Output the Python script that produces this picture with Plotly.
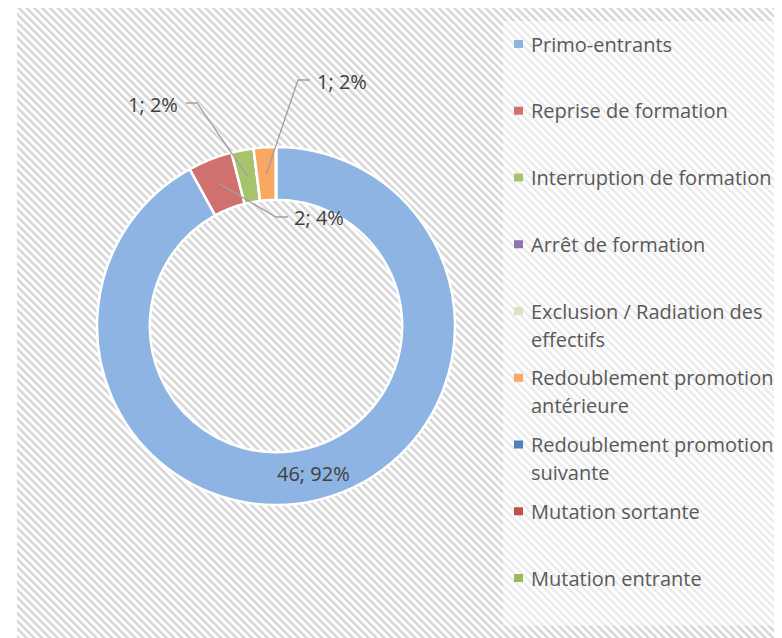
import math
import base64
import plotly.graph_objects as go

# ---------------- data ----------------
categories = [
    "Primo-entrants",
    "Reprise de formation",
    "Interruption de formation",
    "Arrêt de formation",
    "Exclusion / Radiation des effectifs",
    "Redoublement promotion antérieure",
    "Redoublement promotion suivante",
    "Mutation sortante",
    "Mutation entrante",
]
legend_lines = [
    ["Primo-entrants"],
    ["Reprise de formation"],
    ["Interruption de formation"],
    ["Arrêt de formation"],
    ["Exclusion / Radiation des", "effectifs"],
    ["Redoublement promotion", "antérieure"],
    ["Redoublement promotion", "suivante"],
    ["Mutation sortante"],
    ["Mutation entrante"],
]
values = [46, 2, 1, 0, 0, 1, 0, 0, 0]
colors = ["#8DB4E2", "#D0716F", "#A6C46E", "#8E73AE", "#D7E4BD",
          "#F9A762", "#4F81BD", "#C0504D", "#9BBB59"]

# ---------------- geometry (screen pixels) ----------------
OFF = 8                      # page body margin
W, H = 782 - OFF, 638 - OFF  # figure size
CX, CY, R_OUT = 276, 326, 179
HOLE = 0.705
R_IN = R_OUT * HOLE
FONT = "Open Sans"
FS = 20
TXT = "#595959"
LBL = "#404040"


def px(x):
    return (x - OFF) / W


def py(y):
    return 1 - (y - OFF) / H


total = sum(values)
labels_txt = [f"{v}; {round(v / total * 100)}%" for v in values]

fig = go.Figure()
fig.add_trace(go.Pie(
    labels=categories,
    values=values,
    hole=HOLE,
    sort=False,
    direction="clockwise",
    rotation=0,
    marker=dict(colors=colors, line=dict(color="white", width=2.5)),
    textinfo="none",
    showlegend=False,
    hoverinfo="label+value+percent",
    domain=dict(x=[px(CX - R_OUT), px(CX + R_OUT)],
                y=[py(CY + R_OUT), py(CY - R_OUT)]),
))

# ---------------- hatched background ----------------
BX0 = 17
BW, BH = W - (BX0 - OFF), H
svg = (
    f"<svg xmlns='http://www.w3.org/2000/svg' width='{BW}' height='{BH}'>"
    "<defs><pattern id='h' width='5.5' height='5.5' patternUnits='userSpaceOnUse' "
    "patternTransform='rotate(-45)'>"
    "<rect width='5.5' height='5.5' fill='#ffffff'/>"
    "<rect width='2.5' height='5.5' fill='#d6d6d6'/>"
    "</pattern></defs>"
    f"<rect width='{BW}' height='{BH}' fill='url(#h)'/></svg>"
)
src = "data:image/svg+xml;base64," + base64.b64encode(svg.encode()).decode()

shapes = []
# legend box (semi-opaque white)
shapes.append(dict(type="rect", xref="paper", yref="paper",
                   x0=px(503), x1=1, y0=py(626), y1=py(21),
                   fillcolor="rgba(255,255,255,0.5)", line=dict(width=0),
                   layer="below"))

annotations = []

# ---------------- data labels ----------------
cum = 0
mids = []
for v in values:
    mids.append((cum + v / 2) / total)
    cum += v

r_mid = (R_OUT + R_IN) / 2


def ring_point(frac, r):
    ang = 2 * math.pi * frac
    return CX + r * math.sin(ang), CY - r * math.cos(ang)


# big slice: label inside the ring
bx, by = ring_point(mids[0], r_mid)
annotations.append(dict(x=px(bx), y=py(by), xref="paper", yref="paper",
                        text=labels_txt[0], showarrow=False,
                        xanchor="center", yanchor="middle",
                        font=dict(family=FONT, size=FS, color=LBL)))

# small slices: leader-line labels
# index -> (elbow x, elbow y, end x, text x, anchor)
placement = {
    1: (276, 217, 288, 292, "left"),
    2: (197, 103, 186, 180, "right"),
    5: (298, 80, 310, 315, "left"),
}
for i, (ex, ey, endx, tx, anc) in placement.items():
    ax, ay = ring_point(mids[i], r_mid)
    path = f"M {px(ax)},{py(ay)} L {px(ex)},{py(ey)} L {px(endx)},{py(ey)}"
    shapes.append(dict(type="path", xref="paper", yref="paper", path=path,
                       line=dict(color="#a0a0a0", width=1.3)))
    annotations.append(dict(x=px(tx), y=py(ey + 1), xref="paper", yref="paper",
                            text=labels_txt[i], showarrow=False,
                            xanchor=anc, yanchor="middle",
                            font=dict(family=FONT, size=FS, color=LBL)))

# ---------------- manual legend ----------------
LEG_Y0, LEG_STEP, LINE_H = 44, 66.75, 28
for i, lines in enumerate(legend_lines):
    y = LEG_Y0 + i * LEG_STEP
    shapes.append(dict(type="rect", xref="paper", yref="paper",
                       x0=px(514), x1=px(523), y0=py(y + 4), y1=py(y - 4),
                       fillcolor=colors[i], line=dict(width=0)))
    for k, ln in enumerate(lines):
        annotations.append(dict(x=px(529), y=py(y + k * LINE_H), xref="paper",
                                yref="paper", text=ln, showarrow=False,
                                xanchor="left", yanchor="middle",
                                font=dict(family=FONT, size=FS, color=TXT)))

fig.update_layout(
    width=W, height=H,
    margin=dict(l=0, r=0, t=0, b=0),
    paper_bgcolor="white",
    plot_bgcolor="white",
    images=[dict(source=src, xref="paper", yref="paper",
                 x=px(BX0), y=1, sizex=BW / W, sizey=1,
                 xanchor="left", yanchor="top", sizing="stretch",
                 layer="below")],
    shapes=shapes,
    annotations=annotations,
)

fig.write_html("out.html")
